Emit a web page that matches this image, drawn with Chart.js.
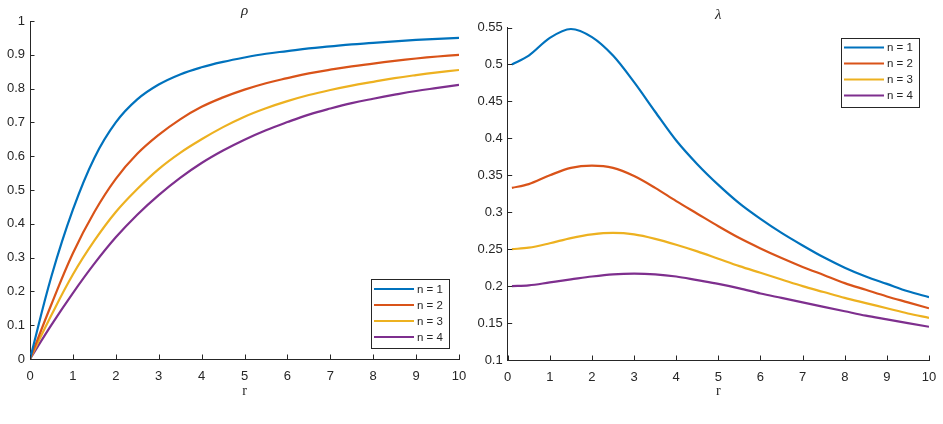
<!DOCTYPE html>
<html>
<head>
<meta charset="utf-8">
<script src="https://cdn.jsdelivr.net/npm/chart.js@4.4.0/dist/chart.umd.min.js"></script>
<style>
  html, body { margin: 0; padding: 0; background: #fff; }
  #wrap { position: relative; width: 943px; height: 424px; }
  canvas { position: absolute; top: 0; }
</style>
</head>
<body>
<div id="wrap">
  <canvas id="rhoChart" width="470" height="424" style="left:0"></canvas>
  <canvas id="lambdaChart" width="473" height="424" style="left:470px"></canvas>
</div>
<script>
// values
const seriesNames = ['n = 1', 'n = 2', 'n = 3', 'n = 4'];
const colors = ['#0072BD', '#D95319', '#EDB120', '#7E2F8E'];

const rRho = [0, 0.5, 1, 1.5, 2, 2.5, 3, 3.5, 4, 4.5, 5, 5.5, 6, 6.5, 7, 7.5, 8, 8.5, 9, 9.5, 10];
const rho1 = [0, 0.245, 0.442, 0.595, 0.70, 0.768, 0.812, 0.842, 0.863, 0.879, 0.892, 0.903, 0.911, 0.919, 0.925, 0.931, 0.935, 0.940, 0.944, 0.947, 0.95];
const rho2 = [0, 0.162, 0.313, 0.435, 0.533, 0.607, 0.663, 0.709, 0.746, 0.774, 0.797, 0.816, 0.831, 0.845, 0.856, 0.866, 0.874, 0.882, 0.889, 0.895, 0.90];
const rho3 = [0, 0.13, 0.25, 0.35, 0.435, 0.503, 0.562, 0.61, 0.65, 0.686, 0.717, 0.742, 0.763, 0.781, 0.796, 0.809, 0.82, 0.831, 0.84, 0.848, 0.855];
const rho4 = [0, 0.101, 0.195, 0.282, 0.36, 0.427, 0.485, 0.536, 0.58, 0.617, 0.649, 0.677, 0.701, 0.723, 0.741, 0.757, 0.77, 0.782, 0.793, 0.802, 0.811];

const rLambda = [0.1, 0.5, 1, 1.5, 2, 2.5, 3, 3.5, 4, 4.5, 5, 5.5, 6, 6.5, 7, 7.5, 8, 8.5, 9, 9.5, 10];
const lambda1 = [0.5, 0.512, 0.536, 0.548, 0.537, 0.512, 0.476, 0.436, 0.397, 0.365, 0.337, 0.312, 0.291, 0.272, 0.255, 0.239, 0.225, 0.213, 0.203, 0.193, 0.185];
const lambda2 = [0.333, 0.338, 0.35, 0.36, 0.363, 0.36, 0.349, 0.333, 0.315, 0.298, 0.281, 0.265, 0.251, 0.238, 0.226, 0.215, 0.204, 0.195, 0.186, 0.178, 0.17];
const lambda3 = [0.25, 0.252, 0.258, 0.265, 0.27, 0.272, 0.27, 0.264, 0.256, 0.247, 0.237, 0.227, 0.218, 0.209, 0.2, 0.192, 0.184, 0.177, 0.17, 0.163, 0.157];
const lambda4 = [0.2, 0.201, 0.205, 0.209, 0.213, 0.216, 0.217, 0.216, 0.213, 0.208, 0.203, 0.197, 0.19, 0.184, 0.178, 0.172, 0.166, 0.16, 0.155, 0.15, 0.145];

const xTicks = [0, 1, 2, 3, 4, 5, 6, 7, 8, 9, 10];
const rhoTicks = [0, 0.1, 0.2, 0.3, 0.4, 0.5, 0.6, 0.7, 0.8, 0.9, 1];
const lambdaTicks = [0.1, 0.15, 0.2, 0.25, 0.3, 0.35, 0.4, 0.45, 0.5, 0.55];

const axisColor = '#262626';
const tickFont = { family: '"Liberation Sans", Arial, sans-serif', size: 13 };

function makeDatasets(r, ys, mode) {
    return ys.map((y, i) => ({
        label: seriesNames[i],
        data: r.map((x, k) => ({ x: x, y: y[k] })),
        borderColor: colors[i],
        borderWidth: 2.2,
        pointRadius: 0,
        fill: false,
        tension: 0.4,
        cubicInterpolationMode: mode
    }));
}

// draws inward ticks, title, x label and the boxed legend (MATLAB look)
const matlabDecor = {
    id: 'matlabDecor',
    afterDraw(chart, args, opts) {
        const ctx = chart.ctx;
        const a = chart.chartArea;
        const xs = chart.scales.x, ys = chart.scales.y;
        ctx.save();
        ctx.strokeStyle = axisColor;
        ctx.lineWidth = 1;
        ctx.beginPath();
        xs.ticks.forEach(t => {
            const px = Math.round(xs.getPixelForValue(t.value)) + 0.5;
            ctx.moveTo(px, a.bottom);
            ctx.lineTo(px, a.bottom - 4.5);
        });
        ys.ticks.forEach(t => {
            const py = Math.round(ys.getPixelForValue(t.value)) + 0.5;
            ctx.moveTo(a.left, py);
            ctx.lineTo(a.left + 4.5, py);
        });
        ctx.stroke();

        // title and x label
        ctx.fillStyle = axisColor;
        ctx.textAlign = 'center';
        ctx.textBaseline = 'middle';
        const cx = (a.left + a.right) / 2;
        ctx.font = 'italic 15px "Liberation Serif", serif';
        ctx.fillText(opts.title, cx, a.top - opts.titleGap);
        ctx.font = '14px "Liberation Serif", serif';
        ctx.fillText('r', cx, 391.5);

        // legend box
        const w = 78, h = 69;
        const bx = a.right - 10 - w;
        const by = opts.corner === 'ne' ? a.top + 10 : a.bottom - 11 - h;
        ctx.fillStyle = '#fff';
        ctx.fillRect(bx, by, w, h);
        ctx.strokeStyle = axisColor;
        ctx.strokeRect(Math.round(bx) + 0.5, Math.round(by) + 0.5, w, h);
        ctx.font = '11.5px "Liberation Sans", Arial, sans-serif';
        ctx.textAlign = 'left';
        chart.data.datasets.forEach((ds, i) => {
            const yy = by + 10 + i * 16;
            ctx.strokeStyle = ds.borderColor;
            ctx.lineWidth = 2.2;
            ctx.beginPath();
            ctx.moveTo(bx + 3, yy);
            ctx.lineTo(bx + 43, yy);
            ctx.stroke();
            ctx.fillStyle = axisColor;
            ctx.fillText(ds.label, bx + 46, yy + 0.5);
        });
        ctx.restore();
    }
};

function makeOptions(yMin, yMax, yTickVals, yWidth, xHeight, padTop, padRight, title, titleGap, corner) {
    return {
        responsive: false,
        animation: false,
        layout: { padding: { top: padTop, right: padRight, left: 0, bottom: 0 } },
        scales: {
            x: {
                type: 'linear',
                min: 0,
                max: 10,
                afterBuildTicks: s => { s.ticks = xTicks.map(v => ({ value: v })); },
                afterFit: s => { s.height = xHeight; s.paddingLeft = 0; s.paddingRight = 0; },
                grid: { display: false, drawTicks: false },
                border: { display: true, color: axisColor, width: 1 },
                ticks: { color: axisColor, font: tickFont, padding: 10, maxRotation: 0 }
            },
            y: {
                type: 'linear',
                min: yMin,
                max: yMax,
                afterBuildTicks: s => { s.ticks = yTickVals.map(v => ({ value: v })); },
                afterFit: s => { s.width = yWidth; s.paddingTop = 0; s.paddingBottom = 0; },
                grid: { display: false, drawTicks: false },
                border: { display: true, color: axisColor, width: 1 },
                ticks: {
                    color: axisColor,
                    font: tickFont,
                    padding: 5,
                    callback: v => String(+v.toFixed(2))
                }
            }
        },
        plugins: {
            legend: { display: false },
            tooltip: { enabled: false },
            matlabDecor: { title: title, titleGap: titleGap, corner: corner }
        }
    };
}

const rhoChart = new Chart(document.getElementById('rhoChart').getContext('2d'), {
    type: 'line',
    data: { datasets: makeDatasets(rRho, [rho1, rho2, rho3, rho4], 'default') },
    options: makeOptions(0, 1, rhoTicks, 30, 65, 21, 11, 'ρ', 9.5, 'se'),
    plugins: [matlabDecor]
});

const lambdaChart = new Chart(document.getElementById('lambdaChart').getContext('2d'), {
    type: 'line',
    data: { datasets: makeDatasets(rLambda, [lambda1, lambda2, lambda3, lambda4], 'monotone') },
    options: makeOptions(0.1, 0.55, lambdaTicks, 37.7, 64, 27.5, 14, 'λ', 12.5, 'ne'),
    plugins: [matlabDecor]
});
</script>
</body>
</html>
